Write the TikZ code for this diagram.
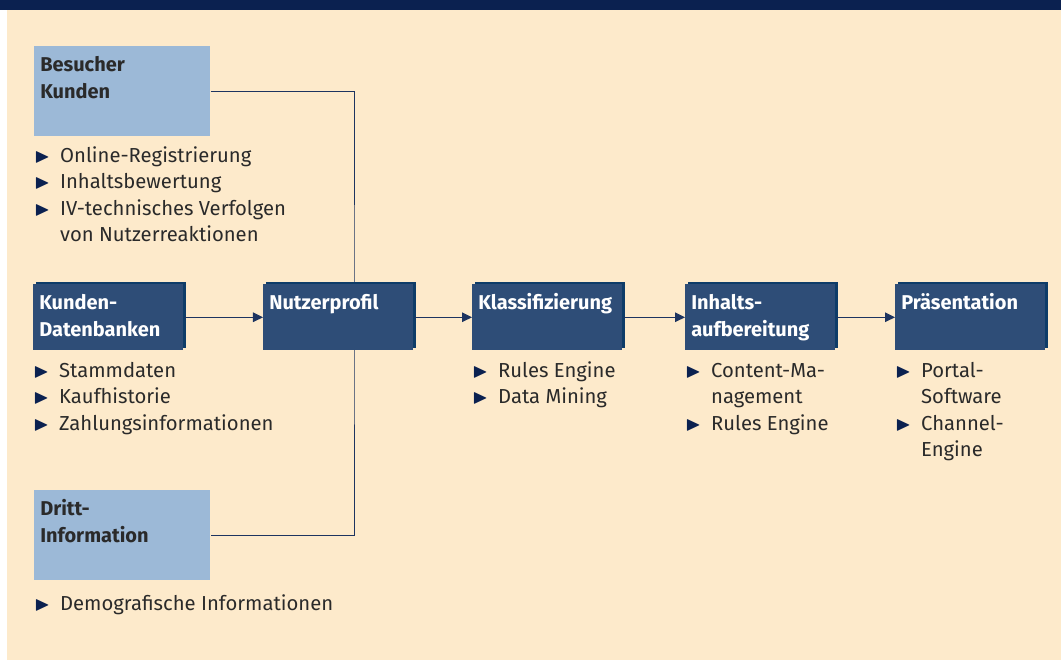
\documentclass[tikz,border=0pt]{standalone}
\usepackage{fontspec}
\setmainfont{Fira Sans}
\usepackage{amssymb}
\usetikzlibrary{positioning,shadows,backgrounds,arrows.meta}

\definecolor{bgbeige}{HTML}{FDEACB}
\definecolor{topnavy}{HTML}{0B2150}
\definecolor{lightblue}{HTML}{9CB9D7}
\definecolor{darkblue}{HTML}{2E4D77}
\definecolor{boxedge}{HTML}{0E3C68}
\definecolor{linknavy}{HTML}{1D3460}
\definecolor{bodytext}{HTML}{2A2A2A}

% bullet and item list
\newcommand\tri{\textcolor{topnavy}{$\blacktriangleright$}}
\newcommand\bulletlist[1]{\begin{tabular}{@{}p{18.4pt}@{}l@{}}#1\end{tabular}}

\tikzset{
  stagebox/.style={fill=darkblue, text=white, anchor=north west,
    inner xsep=0.15cm, inner ysep=0.14cm,
    font=\bfseries\fontsize{14.2}{19.6}\selectfont,
    general shadow={fill=boxedge, shadow xshift=0.075cm, shadow yshift=0.05cm},
    execute at begin node={\begin{minipage}[t][1.37cm][t]{3.45cm}\strut},
    execute at end node={\end{minipage}}},
  sourcebox/.style={fill=lightblue, text=bodytext, anchor=north west,
    inner xsep=0.15cm, inner ysep=0.14cm,
    font=\bfseries\fontsize{14.2}{19.6}\selectfont,
    execute at begin node={\begin{minipage}[t][1.97cm][t]{4.1cm}\strut},
    execute at end node={\end{minipage}}},
  itemlist/.style={anchor=north west, inner sep=0pt, text=bodytext,
    font=\fontsize{14.4}{18.7}\selectfont},
  link/.style={draw=linknavy, line width=0.7pt},
  flow/.style={link, ->}
}

\begin{document}
\begin{tikzpicture}[x=0.025cm, y=-0.025cm, >={Triangle[length=0.25cm,width=0.24cm]}]
\useasboundingbox (0,0) rectangle (1061,661);

% sources and stages
\node[sourcebox] (visitors) at (34,46) {Besucher\\Kunden};
\node[stagebox] (custdb) at (33,284) {Kunden-\\Datenbanken};
\node[stagebox] (profile) at (263,284) {Nutzerprofil};
\node[stagebox] (classify) at (472,284) {Klassifizierung};
\node[stagebox] (content) at (685,284) {Inhalts-\\aufbereitung};
\node[stagebox] (present) at (895,284) {Präsentation};
\node[sourcebox] (thirdparty) at (34,490) {Dritt-\\Information};

% item lists under the boxes
\node[below=0.18cm of visitors.south west, itemlist] (visitorlist)
  {\bulletlist{\tri & Online-Registrierung\\ \tri & Inhaltsbewertung\\
   \tri & IV-technisches Verfolgen\\ & von Nutzerreaktionen}};
\node[below=0.21cm of custdb.south west, itemlist] (custdblist)
  {\bulletlist{\tri & Stammdaten\\ \tri & Kaufhistorie\\ \tri & Zahlungsinformationen}};
\node[below=0.21cm of classify.south west, itemlist] (classifylist)
  {\bulletlist{\tri & Rules Engine\\ \tri & Data Mining}};
\node[below=0.21cm of content.south west, itemlist] (contentlist)
  {\bulletlist{\tri & Content-Ma-\\ & nagement\\ \tri & Rules Engine}};
\node[below=0.21cm of present.south west, itemlist] (presentlist)
  {\bulletlist{\tri & Portal-\\ & Software\\ \tri & Channel-\\ & Engine}};
\node[below=0.27cm of thirdparty.south west, itemlist] (thirdpartylist)
  {\bulletlist{\tri & Demografische Informationen}};

\coordinate (hub) at (354,316);

\begin{scope}[on background layer]
\fill[white] (0,0) rectangle (1061,661);
\fill[bgbeige] (7,10) rectangle (1061,660);
\fill[topnavy] (0,0) rectangle (1061,10);
\draw[link] (visitors.east) -| (hub) |- (thirdparty.east);
\end{scope}

\draw[flow] (custdb.east) -- (profile.west);
\draw[flow] (profile.east) -- (classify.west);
\draw[flow] (classify.east) -- (content.west);
\draw[flow] (content.east) -- (present.west);
\end{tikzpicture}
\end{document}
